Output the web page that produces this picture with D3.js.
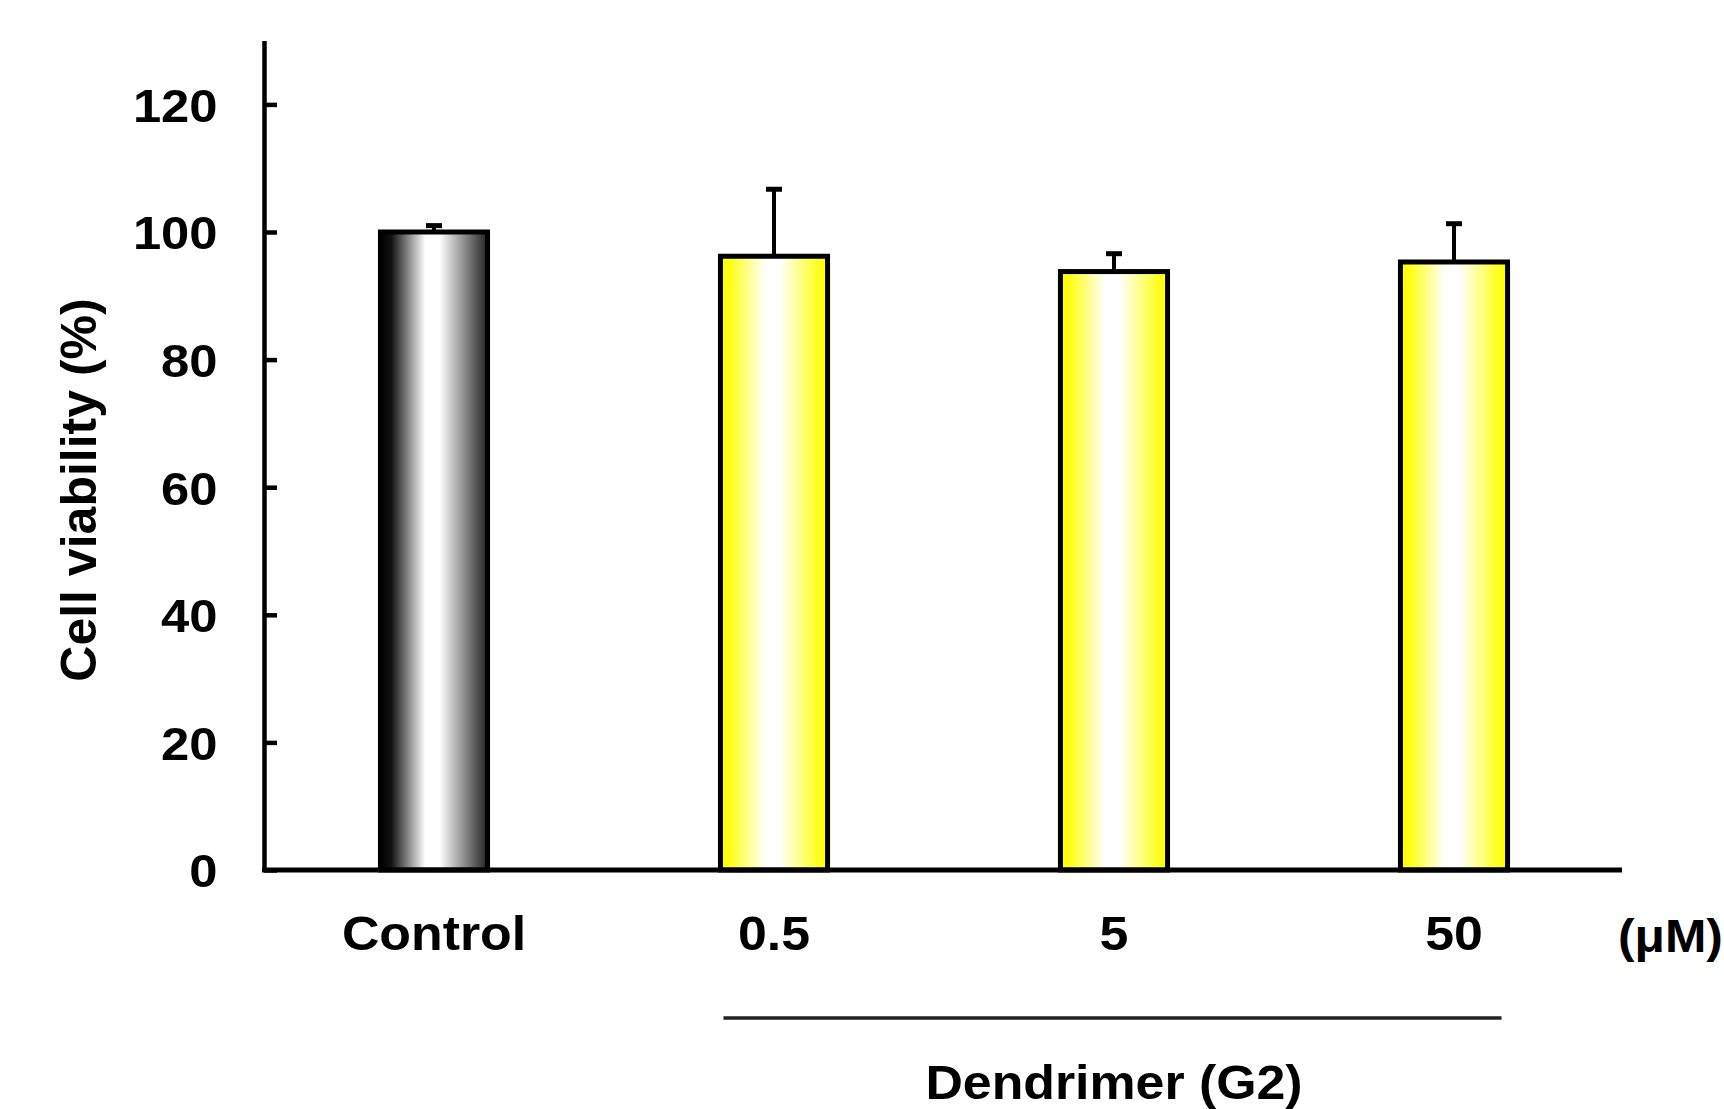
<!DOCTYPE html>
<html>
<head>
<meta charset="utf-8">
<script src="https://cdn.jsdelivr.net/npm/d3@7"></script>
<style>
  body { margin: 0; background: #fff; }
  text { font-family: "Liberation Sans", Arial, sans-serif; font-weight: bold; fill: #000; }
</style>
</head>
<body>
<div id="chart"></div>
<script>
var categories = ["Control", "0.5", "5", "50"];
var viability = [100, 96.2, 93.8, 95.3];
var errors = [1, 10.5, 2.8, 6];
var yTicks = [0, 20, 40, 60, 80, 100, 120];

function draw_bars(){
    var W = 1724, H = 1109;
    var left = 264, right = 1624, bottom = 870;
    var stretch = 1.08; // the source figure is a bit wide in its lettering

    var svg = d3.select("#chart").append("svg")
        .attr("width", W)
        .attr("height", H);

    // gradients for the bars
    var defs = svg.append("defs");
    var gGrey = defs.append("linearGradient").attr("id", "gradGrey")
        .attr("x1", "0").attr("x2", "1").attr("y1", "0").attr("y2", "0");
    [[0, "#000"], [0.1, "#111"], [0.42, "#fff"], [0.55, "#fff"], [1, "#222"]].forEach(function (s) {
        gGrey.append("stop").attr("offset", s[0]).attr("stop-color", s[1]);
    });
    var gYel = defs.append("linearGradient").attr("id", "gradYel")
        .attr("x1", "0").attr("x2", "1").attr("y1", "0").attr("y2", "0");
    [[0, "#ffff00"], [0.08, "#ffff10"], [0.42, "#fff"], [0.55, "#fff"], [0.94, "#ffff10"], [1, "#ffff00"]].forEach(function (s) {
        gYel.append("stop").attr("offset", s[0]).attr("stop-color", s[1]);
    });

    var xScale = d3.scaleBand()
        .range([left, right])
        .paddingInner(0.685)
        .paddingOuter(0.3425)
        .domain(categories);

    var yScale = d3.scaleLinear()
        .range([bottom, bottom - 130 * 6.38])
        .domain([0, 130]);

    var data = categories.map(function (c, i) {
        return { cat: c, v: viability[i], e: errors[i], i: i };
    });

    // bars
    svg.selectAll("rect.bar")
        .data(data)
        .enter().append("rect")
        .attr("class", "bar")
        .attr("x", function (d) { return xScale(d.cat); })
        .attr("y", function (d) { return yScale(d.v); })
        .attr("width", xScale.bandwidth())
        .attr("height", function (d) { return bottom - yScale(d.v); })
        .attr("fill", function (d) { return d.i === 0 ? "url(#gradGrey)" : "url(#gradYel)"; })
        .attr("stroke", "#000")
        .attr("stroke-width", 5);

    // error bars (upper only)
    var eb = svg.selectAll("g.err")
        .data(data)
        .enter().append("g")
        .attr("class", "err");
    eb.append("line")
        .attr("x1", function (d) { return xScale(d.cat) + xScale.bandwidth() / 2; })
        .attr("x2", function (d) { return xScale(d.cat) + xScale.bandwidth() / 2; })
        .attr("y1", function (d) { return yScale(d.v); })
        .attr("y2", function (d) { return yScale(d.v + d.e); })
        .attr("stroke", "#000")
        .attr("stroke-width", 4);
    eb.append("line")
        .attr("x1", function (d) { return xScale(d.cat) + xScale.bandwidth() / 2 - 8; })
        .attr("x2", function (d) { return xScale(d.cat) + xScale.bandwidth() / 2 + 8; })
        .attr("y1", function (d) { return yScale(d.v + d.e); })
        .attr("y2", function (d) { return yScale(d.v + d.e); })
        .attr("stroke", "#000")
        .attr("stroke-width", 5);

    // axis-y
    var yAxis = svg.append("g")
        .attr("transform", "translate(" + left + ",0)")
        .call(d3.axisLeft(yScale).tickValues(yTicks).tickSizeInner(-13).tickSizeOuter(0).tickPadding(43));
    yAxis.select(".domain").attr("stroke-width", 4.5);
    yAxis.selectAll(".tick line").attr("stroke-width", 4.5);
    yAxis.selectAll("text").attr("font-size", "47px").attr("dy", "0.36em")
        .attr("transform", "scale(" + stretch + ",1)");
    yAxis.attr("font-family", null);

    // axis-x
    var xAxis = svg.append("g")
        .attr("transform", "translate(0," + bottom + ")")
        .call(d3.axisBottom(xScale).tickSize(0).tickPadding(46));
    xAxis.select(".domain").attr("stroke-width", 5).attr("d", "M" + (left - 2) + ",0H" + (right - 2));
    xAxis.selectAll("text").attr("font-size", "48px")
        .attr("transform", "scale(" + stretch + ",1)");
    xAxis.attr("font-family", null);

    // unit label
    svg.append("text")
        .attr("transform", "translate(1618,952) scale(" + stretch + ",1)")
        .attr("font-size", "46px")
        .text("(\u03bcM)");

    // group bracket
    svg.append("line")
        .attr("x1", xScale("0.5") + 3)
        .attr("x2", xScale("50") + xScale.bandwidth() - 6)
        .attr("y1", 1018)
        .attr("y2", 1018)
        .attr("stroke", "#222")
        .attr("stroke-width", 3.5);

    svg.append("text")
        .attr("transform", "translate(" + (xScale("5") + xScale.bandwidth() / 2) + ",1099) scale(" + stretch + ",1)")
        .attr("text-anchor", "middle")
        .attr("font-size", "48px")
        .text("Dendrimer (G2)");

    // y title
    svg.append("text")
        .attr("transform", "translate(96,490) rotate(-90)")
        .attr("text-anchor", "middle")
        .attr("font-size", "50px")
        .text("Cell viability (%)");
}

draw_bars();
</script>
</body>
</html>
